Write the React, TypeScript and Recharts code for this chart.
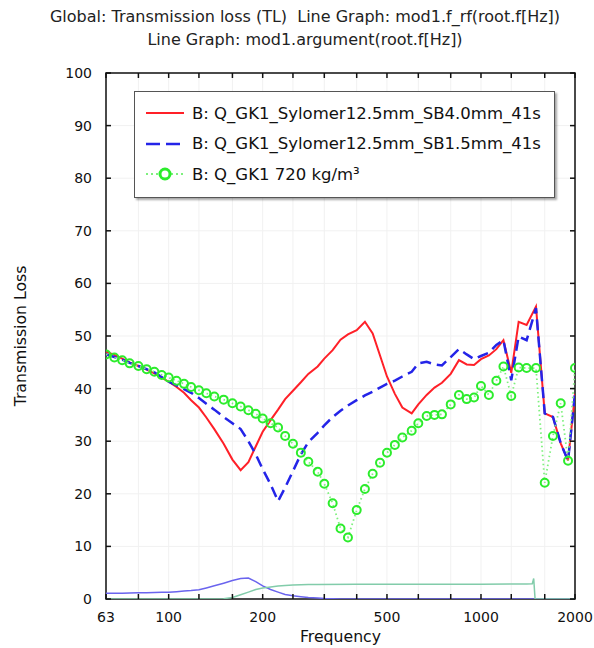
import { LineChart, Line, XAxis, YAxis, CartesianGrid, Legend, ReferenceArea } from 'recharts';

const FONT = '"DejaVu Sans", sans-serif';
const RED = '#ff2028';
const BLUE = '#2424e8';
const GREEN = '#2cec2c';

// plot box (follows from the chart margins and axis sizes below)
const PLOT_TOP = 73;
const PLOT_BOTTOM = 599;
const PLOT_LEFT = 106;
const PLOT_RIGHT = 575;

// 1/12-octave frequencies (Hz)
const freq = [
  63, 67, 71, 75, 80, 85, 90, 95, 100, 106,
  112, 118, 125, 132, 140, 150, 160, 170, 180, 190,
  200, 212, 224, 236, 250, 265, 280, 300, 315, 335,
  355, 375, 400, 425, 450, 475, 500, 530, 560, 600,
  630, 670, 710, 750, 800, 850, 900, 950, 1000, 1060,
  1120, 1180, 1250, 1320, 1400, 1500, 1600, 1700, 1800, 1900, 2000,
];

const tlSB40 = [
  47, 46.4, 45.7, 45, 44.3, 43.6, 42.9, 42.1, 41.3, 40.3,
  39.2, 37.8, 36.4, 34.5, 32.3, 29.5, 26.5, 24.5, 26, 29,
  31.8, 34, 36, 38, 39.6, 41.2, 42.8, 44.2, 45.7, 47.3,
  49.3, 50.3, 51.1, 52.7, 50.5, 46.3, 42.3, 39, 36.4, 35.3,
  37, 38.8, 40.2, 41.1, 42.8, 45.4, 44.6, 44.5, 45.6, 46.3,
  47.5, 49.2, 43, 52.7, 52.1, 55.6, 35.3, 34.6, 29.6, 26.3, 39,
];

const tlSB15 = [
  46.5, 46, 45.5, 44.9, 44.3, 43.7, 43.1, 42.2, 41.3, 40.6,
  39.9, 39.2, 38.2, 37.1, 36, 34.6, 33.4, 32.3, 30, 27.5,
  24.7, 21.8, 18.6, 21.2, 24.3, 27.5, 29.8, 31.6, 33, 34.6,
  35.8, 36.8, 37.8, 38.7, 39.4, 40.2, 40.9, 41.5, 42.3, 43.2,
  44.8, 45.1, 44.6, 44.4, 46, 47.5, 46.5, 45.6, 46.2, 46.8,
  48.3, 49.2, 41.6, 49.9, 49.2, 55.3, 35.3, 34.6, 29.6, 26.3, 39,
];

const tlGK1 = [
  46.5, 45.9, 45.4, 44.8, 44.3, 43.7, 43.2, 42.6, 42.1, 41.5,
  40.9, 40.3, 39.7, 39.1, 38.5, 37.9, 37.2, 36.6, 35.9, 35.2,
  34.3, 33.4, 32.6, 31, 29.5, 27.8, 26.1, 24.2, 21.9, 18.2,
  13.4, 11.7, 16.9, 20.9, 23.8, 25.9, 27.8, 29.3, 30.7, 32,
  33.4, 34.8, 35, 35.1, 37, 38.8, 38, 38.3, 40.5, 38.8,
  41.5, 44.2, 38.6, 44, 43.9, 43.9, 22.1, 31, 37.2, 26.3, 43.9,
];

// mod1.f_rf, same frequencies
const frfValues = [
  1.1, 1.1, 1.1, 1.15, 1.2, 1.2, 1.25, 1.3, 1.3, 1.4,
  1.5, 1.6, 1.75, 2.1, 2.5, 3, 3.5, 3.9, 4, 3.3,
  2.5, 1.8, 1.3, 0.85, 0.6, 0.42, 0.28, 0.18, 0.1, 0.05,
  0.02, 0, 0, 0, 0, 0, 0, 0, 0, 0,
  0, 0, 0, 0, 0, 0, 0, 0, 0, 0,
  0, 0, 0, 0, 0, 0, 0, 0, 0, 0, 0,
];

// mod1.argument
const argFreq = [
  63, 140, 150, 160, 170, 180, 190, 200, 212, 224, 236, 250, 265, 280, 300,
  400, 600, 1000, 1400, 1460, 1475, 1490, 1600, 2000,
];
const argValues = [
  0, 0, 0.05, 0.3, 0.8, 1.3, 1.8, 2.1, 2.3, 2.45, 2.55, 2.65, 2.7, 2.75, 2.75,
  2.8, 2.8, 2.8, 2.85, 2.9, 3.9, 0, 0, 0,
];

const octaveTicks = [63, 80, 100, 125, 160, 200, 250, 315, 400, 500, 630, 800, 1000, 1250, 1600, 2000];
const labeledTicks = [63, 100, 200, 500, 1000, 2000];
const yTicks = [0, 10, 20, 30, 40, 50, 60, 70, 80, 90, 100];

const rows = freq.map((f, i) => ({
  f,
  sb40: tlSB40[i],
  sb15: tlSB15[i],
  gk1: tlGK1[i],
  frf: frfValues[i],
}));
const argRows = argFreq.map((f, i) => ({ f, arg: argValues[i] }));

const legendItems = [
  { name: 'B: Q_GK1_Sylomer12.5mm_SB4.0mm_41s', kind: 'solid' },
  { name: 'B: Q_GK1_Sylomer12.5mm_SB1.5mm_41s', kind: 'dash' },
  { name: 'B: Q_GK1 720 kg/m³', kind: 'circle' },
];

// ticks point inwards, on both opposite sides of the box
function FreqTick(props: any) {
  const { x, payload } = props;
  const v = payload.value;
  return (
    <g>
      <line x1={x} x2={x} y1={PLOT_BOTTOM} y2={PLOT_BOTTOM - 5} stroke="#111" strokeWidth={1.5} />
      <line x1={x} x2={x} y1={PLOT_TOP} y2={PLOT_TOP + 5} stroke="#111" strokeWidth={1.5} />
      {labeledTicks.includes(v) && (
        <text x={x} y={PLOT_BOTTOM + 23} textAnchor="middle" fontSize={14} fill="#111" fontFamily={FONT}>
          {v}
        </text>
      )}
    </g>
  );
}

function LossTick(props: any) {
  const { y, payload } = props;
  return (
    <g>
      <line x1={PLOT_LEFT} x2={PLOT_LEFT + 5} y1={y} y2={y} stroke="#111" strokeWidth={1.5} />
      <line x1={PLOT_RIGHT} x2={PLOT_RIGHT - 5} y1={y} y2={y} stroke="#111" strokeWidth={1.5} />
      <text x={PLOT_LEFT - 14} y={y} dy="0.36em" textAnchor="end" fontSize={14} fill="#111" fontFamily={FONT}>
        {payload.value}
      </text>
    </g>
  );
}

function LegendBox() {
  return (
    <div
      style={{
        background: '#fff',
        border: '1.5px solid #555',
        boxShadow: '2px 2px 2px rgba(0,0,0,0.35)',
        paddingTop: 6,
        paddingBottom: 7,
        fontFamily: FONT,
        fontSize: 16.5,
        color: '#111',
      }}
    >
      {legendItems.map(it => (
        <div key={it.name} style={{ height: 30.5, display: 'flex', alignItems: 'center' }}>
          <svg width={56} height={20} style={{ flex: 'none' }}>
            {it.kind === 'solid' && <line x1={11} x2={49} y1={10} y2={10} stroke={RED} strokeWidth={2} />}
            {it.kind === 'dash' && (
              <line x1={11} x2={49} y1={10} y2={10} stroke={BLUE} strokeWidth={2.5} strokeDasharray="14 6" />
            )}
            {it.kind === 'circle' && (
              <g>
                <line x1={11} x2={49} y1={10} y2={10} stroke="#7df07d" strokeWidth={2} strokeDasharray="2 3" />
                <circle cx={30} cy={10} r={5} fill="#fff" stroke={GREEN} strokeWidth={3} />
              </g>
            )}
          </svg>
          <span style={{ marginLeft: 1, whiteSpace: 'nowrap' }}>{it.name}</span>
        </div>
      ))}
    </div>
  );
}

export default function App() {
  return (
    <div style={{ position: 'absolute', left: 0, top: 0, width: 594, height: 648, background: '#fff', fontFamily: FONT }}>
      <div
        style={{
          position: 'absolute',
          left: 0,
          top: 5,
          width: 610,
          textAlign: 'center',
          fontSize: 16,
          lineHeight: '23px',
          color: '#222',
        }}
      >
        <div>Global: Transmission loss (TL)&nbsp; Line Graph: mod1.f_rf(root.f[Hz])</div>
        <div>Line Graph: mod1.argument(root.f[Hz])</div>
      </div>
      <LineChart
        width={594}
        height={648}
        data={rows}
        margin={{ top: PLOT_TOP, right: 594 - PLOT_RIGHT, bottom: 0, left: 0 }}
        style={{ position: 'absolute', left: 0, top: 0 }}
      >
        <CartesianGrid xAxisId="b" yAxisId="l" stroke="#f1f1f1" />
        <XAxis
          xAxisId="b"
          dataKey="f"
          type="number"
          scale="log"
          domain={[63, 2000]}
          allowDataOverflow
          ticks={octaveTicks}
          interval={0}
          tickLine={false}
          tick={<FreqTick />}
          axisLine={false}
          height={648 - PLOT_BOTTOM}
          label={{ value: 'Frequency', position: 'insideBottom', offset: 6, style: { fontSize: 15.7, fill: '#111', fontFamily: FONT } }}
        />
        <YAxis
          yAxisId="l"
          type="number"
          domain={[0, 100]}
          allowDataOverflow
          ticks={yTicks}
          interval={0}
          tickLine={false}
          tick={<LossTick />}
          axisLine={false}
          width={PLOT_LEFT}
          label={{
            value: 'Transmission Loss',
            angle: -90,
            position: 'insideLeft',
            offset: 20,
            style: { fontSize: 15.7, fill: '#111', fontFamily: FONT, textAnchor: 'middle' },
          }}
        />
        <ReferenceArea xAxisId="b" yAxisId="l" x1={63} x2={2000} y1={0} y2={100} fill="none" stroke="#111" strokeWidth={1.5} />
        <Legend
          layout="vertical"
          align="center"
          verticalAlign="middle"
          content={() => <LegendBox />}
          wrapperStyle={{ left: 134, top: 91, width: 421, height: 'auto' }}
        />
        <Line xAxisId="b" yAxisId="l" dataKey="frf" stroke="#6a64ee" strokeWidth={1.5} dot={false} isAnimationActive={false} legendType="none" />
        <Line xAxisId="b" yAxisId="l" data={argRows} dataKey="arg" stroke="#82ccaa" strokeWidth={1.5} dot={false} isAnimationActive={false} legendType="none" />
        <Line xAxisId="b" yAxisId="l" dataKey="sb40" stroke={RED} strokeWidth={2} dot={false} isAnimationActive={false} />
        <Line xAxisId="b" yAxisId="l" dataKey="sb15" stroke={BLUE} strokeWidth={2.5} strokeDasharray="11 6" dot={false} isAnimationActive={false} />
        <Line
          xAxisId="b"
          yAxisId="l"
          dataKey="gk1"
          stroke="#7df07d"
          strokeWidth={1.8}
          strokeDasharray="1.5 3"
          dot={{ r: 4, stroke: GREEN, strokeWidth: 2, fill: 'none', strokeDasharray: '' }}
          isAnimationActive={false}
        />
      </LineChart>
    </div>
  );
}
